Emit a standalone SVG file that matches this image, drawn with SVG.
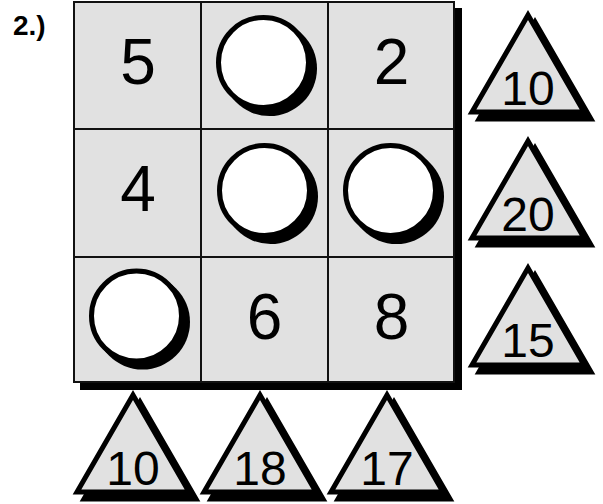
<svg xmlns="http://www.w3.org/2000/svg" xmlns:xlink="http://www.w3.org/1999/xlink" width="603" height="504" viewBox="0 0 603 504">
<style>
.cell{fill:#e1e1e1;stroke:none}
.grid{fill:none;stroke:#111;stroke-width:2}
.num{font-family:"Liberation Sans",Arial,sans-serif;font-size:64px;fill:#000;text-anchor:middle}
.tnum{font-family:"Liberation Sans",Arial,sans-serif;font-size:48px;fill:#000;text-anchor:middle}
.title{font-family:"Liberation Sans",Arial,sans-serif;font-size:28px;font-weight:bold;fill:#000}
</style>
<defs>
<g id="tri">
<polygon points="7,7 -49,104 63,104" fill="#000" stroke="#000" stroke-width="5"/>
<polygon points="0,0 -56,97 56,97" fill="#e1e1e1" stroke="#000" stroke-width="5"/>
</g>
<g id="circ">
<circle cx="6" cy="6" r="47.5" fill="#000"/>
<circle cx="0" cy="0" r="45" fill="#fff" stroke="#000" stroke-width="5"/>
</g>
</defs>
<rect width="603" height="504" fill="#fff"/>
<text class="title" x="13" y="35">2.)</text>
<g id="grid">
<rect x="80" y="8" width="382" height="382" fill="#000"/>
<rect class="cell" x="74" y="2" width="380" height="380"/>
<line class="grid" x1="201" y1="2" x2="201" y2="382"/>
<line class="grid" x1="328" y1="2" x2="328" y2="382"/>
<line class="grid" x1="74" y1="129" x2="454" y2="129"/>
<line class="grid" x1="74" y1="257" x2="454" y2="257"/>
<rect class="grid" x="74" y="2" width="380" height="380"/>
</g>
<g id="cell-r1c1"><text class="num" x="138" y="84">5</text></g>
<g id="cell-r1c2"><use xlink:href="#circ" href="#circ" transform="translate(263.5,62.5)"/></g>
<g id="cell-r1c3"><text class="num" x="391.5" y="84">2</text></g>
<g id="cell-r2c1"><text class="num" x="138" y="211">4</text></g>
<g id="cell-r2c2"><use xlink:href="#circ" href="#circ" transform="translate(264.5,190.5)"/></g>
<g id="cell-r2c3"><use xlink:href="#circ" href="#circ" transform="translate(390.5,190.5)"/></g>
<g id="cell-r3c1"><use xlink:href="#circ" href="#circ" transform="translate(136.5,316)"/></g>
<g id="cell-r3c2"><text class="num" x="264.5" y="339">6</text></g>
<g id="cell-r3c3"><text class="num" x="391.5" y="339">8</text></g>
<g id="tri-row1"><use xlink:href="#tri" href="#tri" transform="translate(528,15)"/><text class="tnum" x="528" y="105">10</text></g>
<g id="tri-row2"><use xlink:href="#tri" href="#tri" transform="translate(528,141)"/><text class="tnum" x="528" y="231">20</text></g>
<g id="tri-row3"><use xlink:href="#tri" href="#tri" transform="translate(528,268)"/><text class="tnum" x="528" y="357">15</text></g>
<g id="tri-col1"><use xlink:href="#tri" href="#tri" transform="translate(133,395)"/><text class="tnum" x="133" y="485">10</text></g>
<g id="tri-col2"><use xlink:href="#tri" href="#tri" transform="translate(260,395)"/><text class="tnum" x="260" y="485">18</text></g>
<g id="tri-col3"><use xlink:href="#tri" href="#tri" transform="translate(387,395)"/><text class="tnum" x="387" y="485">17</text></g>
<g id="connectors"/>
</svg>
